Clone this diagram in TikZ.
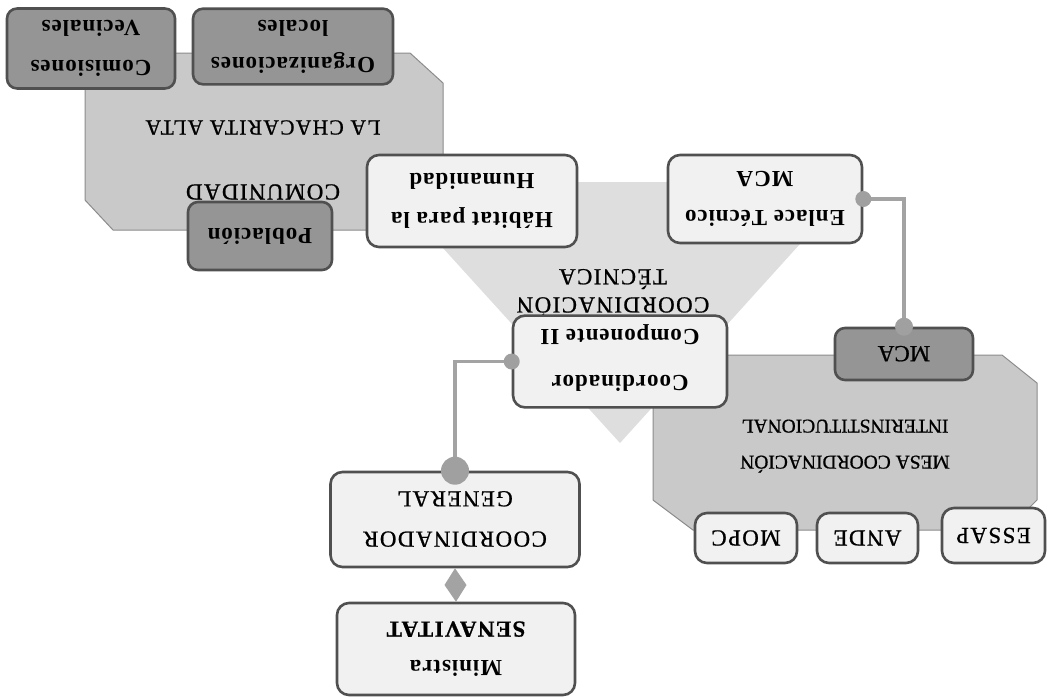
\documentclass[tikz,border=0pt]{standalone}
\usepackage{fontspec}
\setmainfont{Liberation Serif}
\newfontfamily\capsf[LetterSpace=6,FakeBold=0.8]{Liberation Serif}
\newfontfamily\lowf[LetterSpace=4]{Liberation Serif}
\newfontfamily\plainf[FakeBold=0.8]{Liberation Serif}
\usetikzlibrary{calc}
\definecolor{lightc}{HTML}{F1F1F1}
\definecolor{darkc}{HTML}{959595}
\definecolor{bordc}{HTML}{505050}
\definecolor{panelc}{HTML}{C9C9C9}
\definecolor{panelb}{HTML}{8C8C8C}
\definecolor{trifill}{HTML}{DEDEDE}
\definecolor{connc}{HTML}{A3A3A3}
\definecolor{dotc}{HTML}{A0A0A0}
\newcommand\flip[2][1.45]{\rotatebox{180}{\def\arraystretch{#1}\begin{tabular}{@{}c@{}}#2\end{tabular}}}
\newcommand\bigcaps{\fontsize{23}{26}\capsf}
\newcommand\midcaps{\fontsize{21.5}{26}\capsf}
\newcommand\lowb{\fontsize{23}{27}\lowf\bfseries}
\newcommand\mesaf{\fontsize{19.5}{23.4}\plainf}
\newcommand\mcaf{\fontsize{23}{27}\plainf}
\tikzset{
  lbox/.style={draw=bordc, line width=2.6pt, fill=lightc, rounded corners=12pt, inner sep=0pt},
  dbox/.style={draw=bordc, line width=2.6pt, fill=darkc, rounded corners=10pt, inner sep=0pt},
  panel/.style={draw=panelb, line width=1pt, fill=panelc},
  conn/.style={draw=connc, line width=3.5pt},
}
\begin{document}
\begin{tikzpicture}[x=1pt,y=-1pt]
\fill[white] (0,0) rectangle (1048,697);
\useasboundingbox (0,0) rectangle (1048,697);

% triangle (coordinacion tecnica)
\fill[trifill] (383,182) -- (856,182) -- (620,443) -- cycle;
% panels
\draw[panel] (85,83) -- (115,53) -- (410,53) -- (443,83) -- (443,200) -- (413,230) -- (113,230) -- (85,200) -- cycle;
\draw[panel] (653,385) -- (683,355) -- (1002,355) -- (1037,383) -- (1037,500) -- (1007,530) -- (693,530) -- (653,500) -- cycle;

% panel texts
\node[font=\bigcaps, inner sep=0pt] (comA) at (263,192) {\flip{COMUNIDAD}};
\node[font=\midcaps, inner sep=0pt] (comB) at (263,128) {\flip{LA CHACARITA ALTA}};
\node[font=\mesaf, inner sep=0pt] (mesa) at (845,445) {\flip[1.54]{MESA COORDINACIÓN\\INTERINSTITUCIONAL}};
\node[font=\bigcaps, inner sep=0pt] (tec) at (613,289) {\flip[1.08]{COORDINACIÓN\\TÉCNICA}};

% dark boxes
\node[dbox, minimum width=168, minimum height=77, font=\lowb] (com) at (91,48.5) {\flip[1.48]{Comisiones\\Vecinales}};
\node[dbox, minimum width=200, minimum height=73, font=\lowb] (org) at (293,46.5) {\flip[1.4]{Organizaciones\\locales}};
\node[dbox, minimum width=144, minimum height=68, font=\lowb] (pob) at (260,236) {\flip{Población}};
\node[dbox, minimum width=138, minimum height=52, font=\mcaf] (mca) at (904,354) {\flip{MCA}};

% light boxes
\node[lbox, minimum width=238, minimum height=92, font=\lowb] (min) at (456,649) {\flip{Ministra\\{\bigcaps SENAVITAT}}};
\node[lbox, minimum width=249, minimum height=95, font=\bigcaps] (cg) at (455,519.5) {\flip[1.55]{COORDINADOR\\GENERAL}};
\node[lbox, minimum width=214, minimum height=89, font=\lowb] (cc) at (620,361.5) {\flip[1.7]{Coordinador\\Componente II}};
\node[lbox, minimum width=210, minimum height=92, font=\lowb] (hab) at (472,201) {\flip{Hábitat para la\\Humanidad}};
\node[lbox, minimum width=194, minimum height=88, font=\lowb] (enl) at (765,199) {\flip{Enlace Técnico\\MCA}};
\node[lbox, minimum width=103, minimum height=55, font=\bigcaps] (essap) at (993.5,535.5) {\flip{ESSAP}};
\node[lbox, minimum width=101, minimum height=50, font=\bigcaps] (ande) at (867.5,538) {\flip{ANDE}};
\node[lbox, minimum width=102, minimum height=50, font=\bigcaps] (mopc) at (746,538) {\flip{MOPC}};

% connectors
\draw[conn] (cc.west) -| (cg.north);
\draw[conn] (enl.east) -| (mca.north);
\fill[connc] (cg.south) -- ($(cg.south)!0.5!(min.north)+(11,0)$) -- (min.north) -- ($(cg.south)!0.5!(min.north)+(-11,0)$) -- cycle;
\fill[dotc] (cc.west) circle (8pt);
\fill[dotc] (cg.north) circle (14pt);
\fill[dotc] (enl.east) circle (8pt);
\fill[dotc] (mca.north) circle (9pt);
\end{tikzpicture}
\end{document}
